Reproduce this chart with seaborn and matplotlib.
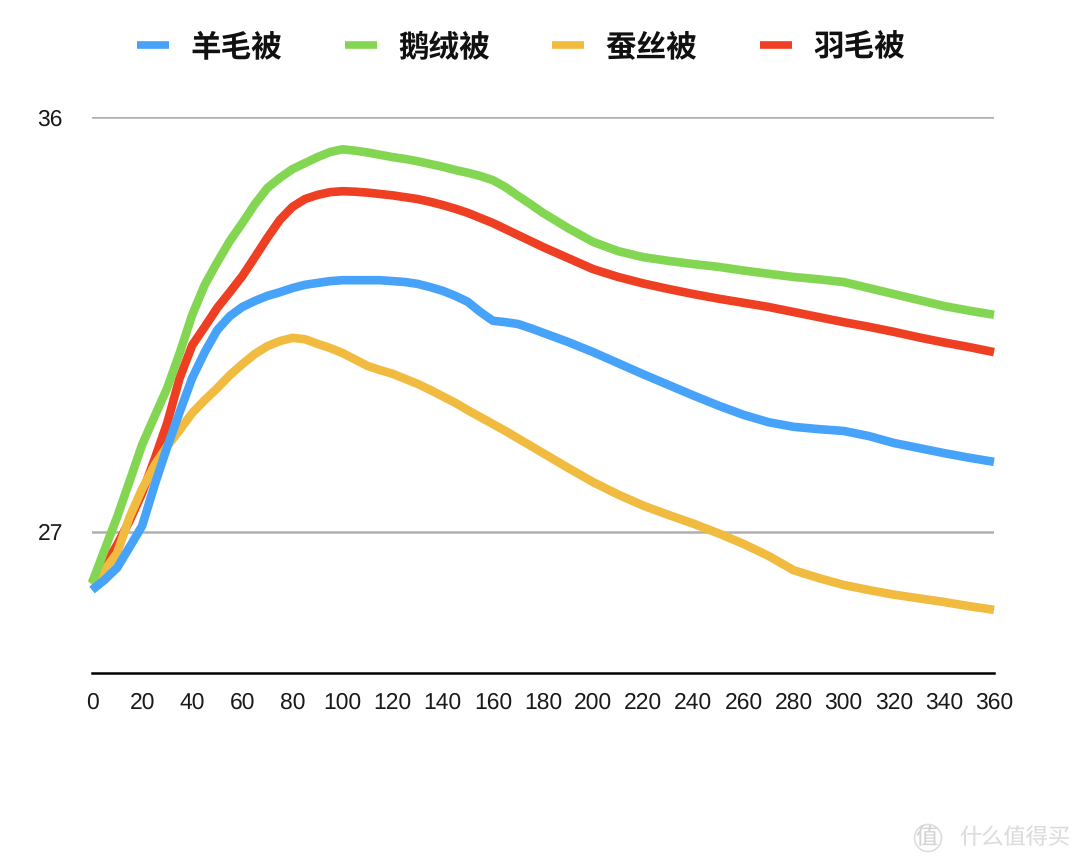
import numpy as np
import pandas as pd
import matplotlib
matplotlib.use("Agg")
import matplotlib.pyplot as plt
from matplotlib.lines import Line2D
from matplotlib.patches import Circle
import seaborn as sns

# Data (every 5 up to 180, then every 10)
days = list(range(0, 180, 5)) + list(range(180, 361, 10))
wool = [25.74, 25.96, 26.22, 26.67, 27.13, 28.02, 28.84, 29.60, 30.34, 30.90, 31.38, 31.68,
        31.88, 32.01, 32.12, 32.20, 32.29, 32.36, 32.40, 32.44, 32.46, 32.46, 32.46, 32.46,
        32.44, 32.42, 32.38, 32.31, 32.23, 32.12, 31.99, 31.77, 31.58, 31.55, 31.51, 31.42,
        31.32, 31.12, 30.90, 30.66, 30.42, 30.19, 29.96, 29.74, 29.54, 29.38, 29.28, 29.23,
        29.19, 29.08, 28.93, 28.82, 28.71, 28.61, 28.52]
goose = [25.89, 26.61, 27.32, 28.10, 28.89, 29.51, 30.12, 30.88, 31.71, 32.36, 32.85, 33.31,
         33.70, 34.11, 34.46, 34.68, 34.87, 35.00, 35.13, 35.24, 35.30, 35.27, 35.23, 35.18,
         35.13, 35.09, 35.04, 34.98, 34.92, 34.85, 34.79, 34.72, 34.63, 34.48, 34.29, 34.11,
         33.92, 33.59, 33.29, 33.09, 32.96, 32.88, 32.81, 32.75, 32.67, 32.60, 32.53, 32.48,
         32.42, 32.29, 32.16, 32.03, 31.90, 31.80, 31.71]
silk = [25.85, 26.17, 26.54, 27.32, 27.93, 28.45, 28.86, 29.21, 29.58, 29.86, 30.12, 30.40,
        30.64, 30.86, 31.03, 31.14, 31.21, 31.18, 31.08, 30.99, 30.88, 30.74, 30.60, 30.51,
        30.43, 30.32, 30.21, 30.08, 29.94, 29.80, 29.64, 29.49, 29.34, 29.19, 29.03, 28.87,
        28.71, 28.39, 28.08, 27.81, 27.57, 27.37, 27.18, 26.97, 26.74, 26.48, 26.17, 26.00,
        25.85, 25.74, 25.64, 25.56, 25.48, 25.39, 25.31]
feather = [25.91, 26.26, 26.72, 27.24, 27.84, 28.58, 29.36, 30.34, 31.05, 31.45, 31.86, 32.20,
           32.55, 32.96, 33.38, 33.77, 34.05, 34.22, 34.31, 34.37, 34.39, 34.38, 34.36, 34.33,
           34.30, 34.26, 34.22, 34.16, 34.09, 34.01, 33.92, 33.81, 33.70, 33.57, 33.44, 33.31,
           33.18, 32.94, 32.70, 32.53, 32.39, 32.27, 32.16, 32.06, 31.97, 31.88, 31.77, 31.66,
           31.55, 31.45, 31.34, 31.22, 31.11, 31.01, 30.90]

names = ["羊毛被", "鹅绒被", "蚕丝被", "羽毛被"]
colors = ["#47a3fa", "#83d651", "#f0bb3f", "#ee3f22"]
draw_order = ["羽毛被", "蚕丝被", "鹅绒被", "羊毛被"]
xticks = list(range(0, 361, 20))
yticks = [27, 36]

df = pd.DataFrame({"days": days, "羊毛被": wool, "鹅绒被": goose, "蚕丝被": silk, "羽毛被": feather})
long_df = df.melt(id_vars="days", var_name="type", value_name="temp")

sns.set_style("white")
plt.rcParams["font.family"] = ["Liberation Sans", "Noto Sans CJK SC"]
plt.rcParams["text.hinting"] = "no_hinting"
plt.rcParams["text.kerning_factor"] = 0

W, H = 1080, 864
fig = plt.figure(figsize=(W / 100, H / 100), dpi=100)
ax = fig.add_axes([92 / W, 1 - 673 / H, 902 / W, 556 / H])

sns.lineplot(data=long_df, x="days", y="temp", hue="type", hue_order=draw_order,
             palette=dict(zip(names, colors)), linewidth=6.2, legend=False, ax=ax,
             clip_on=False, solid_capstyle="butt", solid_joinstyle="round", zorder=3)

ax.set_xlim(0, 360)
ax.set_ylim(23.94, 36)
ax.set_xticks(xticks)
ax.set_yticks(yticks)
ax.set_xlabel("")
ax.set_ylabel("")
ax.grid(axis="y", color="#b0b0b0", linewidth=1.8)
ax.grid(axis="x", visible=False)
ax.tick_params(axis="x", length=0, pad=14, labelsize=16.5, labelcolor="#1a1a1a")
ax.tick_params(axis="y", length=0, pad=21, labelsize=16.5, labelcolor="#1a1a1a")
sns.despine(ax=ax, left=True, right=True, top=True)
ax.spines["bottom"].set_color("black")
ax.spines["bottom"].set_linewidth(1.8)

handles = [Line2D([], [], color=c, linewidth=5.5, solid_capstyle="butt") for c in colors]
fig.legend(handles, names, loc="center", bbox_to_anchor=(521 / W, 1 - 47 / H), ncol=4, frameon=False,
           prop={"family": "Noto Sans CJK SC", "weight": "bold", "size": 22},
           handlelength=1.05, handletextpad=0.7, columnspacing=2.05, labelcolor="#111111")

# watermark
fig.text(1070 / W, 1 - 838 / H, "什么值得买", ha="right", va="center", color="#dcdcdc", fontsize=16,
         family="Noto Sans CJK SC")
fig.text(927 / W, 1 - 838 / H, "值", ha="center", va="center", color="#d4d4d4", fontsize=16,
         family="Noto Sans CJK SC")
fig.add_artist(Circle((928 / W * 10.8, (1 - 838 / H) * 8.64), 0.135, transform=fig.dpi_scale_trans,
                      fill=False, edgecolor="#dcdcdc", linewidth=1.2))

fig.savefig("out.png", dpi=100)
